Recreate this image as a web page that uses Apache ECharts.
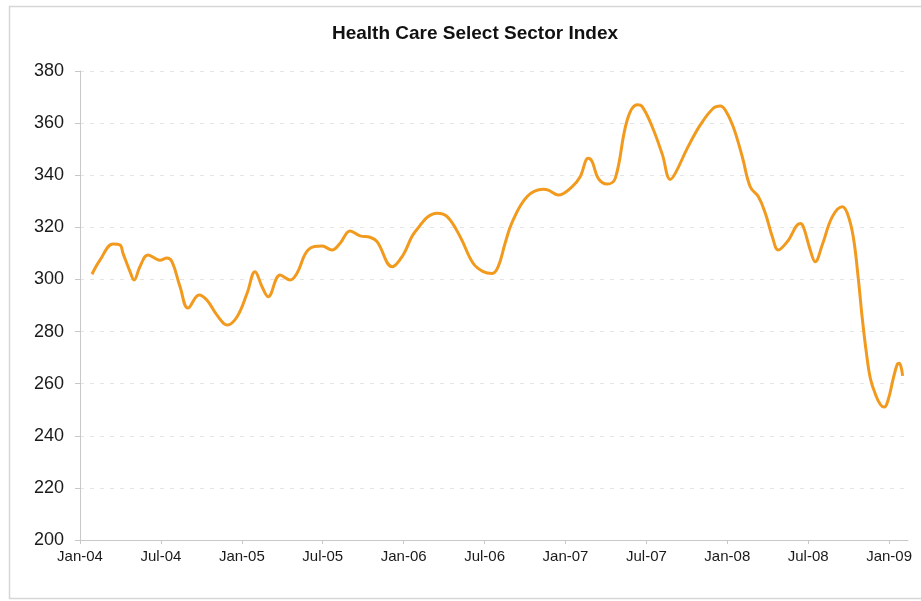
<!DOCTYPE html>
<html><head><meta charset="utf-8">
<script src="https://cdn.jsdelivr.net/npm/echarts@6/dist/echarts.min.js"></script>
<style>html,body{margin:0;padding:0;background:#fff}#c{width:921px;height:601px}</style>
</head><body><div id="c"></div>
<script>
const tickLabels = ['Jan-04','Jul-04','Jan-05','Jul-05','Jan-06','Jul-06','Jan-07','Jul-07','Jan-08','Jul-08','Jan-09'];
// x position: months since Jan 2004
const monthOffset = [0.89,1.48,2.45,2.97,3.19,3.71,4.01,4.45,5.04,5.93,6.45,6.82,7.42,8.01,8.83,9.42,10.16,10.91,11.65,12.39,12.98,13.50,13.95,14.84,15.58,16.10,16.91,17.95,18.69,19.29,20.03,20.77,21.51,22.03,23.15,23.96,24.85,26.48,27.23,28.19,29.15,29.90,30.56,31.01,31.53,32.05,33.16,34.35,34.72,35.46,36.50,37.09,37.69,37.98,38.43,39.09,39.69,40.58,41.32,41.69,42.43,43.18,43.77,44.14,45.03,46.00,46.96,47.48,47.85,48.44,49.11,49.70,50.30,50.82,51.34,51.78,52.45,53.41,53.64,54.15,54.52,55.04,55.79,56.53,56.90,57.34,57.72,58.01,58.31,58.61,58.98,59.35,59.64,59.94,60.31,60.61,60.76,61.00];
const indexValue = [302,307.4,313.6,313.2,310,303,299.8,305,309.4,307.4,308.2,306.8,297.2,289,294,292,286.3,282.5,285.7,294.7,303,297.2,293.4,301.7,299.8,302.5,311.3,312.8,311.3,313.9,318.6,316.7,316.2,314.5,304.9,309.4,318.3,325.4,324.1,316.4,306.2,303,302.3,304.9,314,322,331.8,334.6,334.3,332.4,335.6,339.4,346.5,345.2,338.8,336.6,338.8,361.2,367,366.3,358.6,348,338.4,340.7,350.3,359.3,365.7,366.6,365,358.6,347.1,335.6,331.8,325.4,316.4,311.3,314.5,321.5,320.2,311.3,306.8,313.2,324.1,327.9,325.4,316.4,300,285,272,262,256,252,251,254,262,267.5,267.8,263];

const seriesData = monthOffset.map((m, i) => [m, indexValue[i]]);
const chart = echarts.init(document.getElementById('c'), null, {renderer: 'canvas'});
chart.setOption({
  animation: false,
  backgroundColor: '#fff',
  title: {
    text: 'Health Care Select Sector Index',
    left: 470, top: 19, textAlign: 'center',
    textStyle: {fontFamily: 'Liberation Sans, Arial', fontWeight: 'bold', fontSize: 19, color: '#111'}
  },
  graphic: [{
    type: 'rect', left: 7, top: 4, silent: true,
    shape: {width: 930, height: 592},
    style: {fill: 'none', stroke: '#d6d6d6', lineWidth: 1.5}
  }],
  grid: {left: 80, right: 13, top: 71, bottom: 61, containLabel: false},
  xAxis: {
    type: 'value', min: 0, max: 61.4, interval: 6,
    axisLine: {show: true, lineStyle: {color: '#c8c8c8', width: 1}},
    axisTick: {show: true, length: 4, lineStyle: {color: '#c8c8c8'}},
    splitLine: {show: false},
    axisLabel: {
      showMaxLabel: false, margin: 9,
      fontFamily: 'Liberation Sans, Arial', fontSize: 15, color: '#1a1a1a',
      formatter: v => tickLabels[Math.round(v / 6)] || ''
    }
  },
  yAxis: {
    type: 'value', min: 200, max: 380, interval: 20,
    axisLine: {show: true, lineStyle: {color: '#c8c8c8', width: 1}},
    axisTick: {show: true, length: 5, lineStyle: {color: '#c8c8c8'}},
    splitLine: {show: true, lineStyle: {color: '#e4e4e4', type: [4, 6], width: 1}},
    axisLabel: {margin: 16, fontFamily: 'Liberation Sans, Arial', fontSize: 18, color: '#1a1a1a'}
  },
  series: [{
    type: 'line', data: seriesData, smooth: 0.4, showSymbol: false,
    lineStyle: {color: '#F29A1E', width: 3}
  }]
});
</script></body></html>
